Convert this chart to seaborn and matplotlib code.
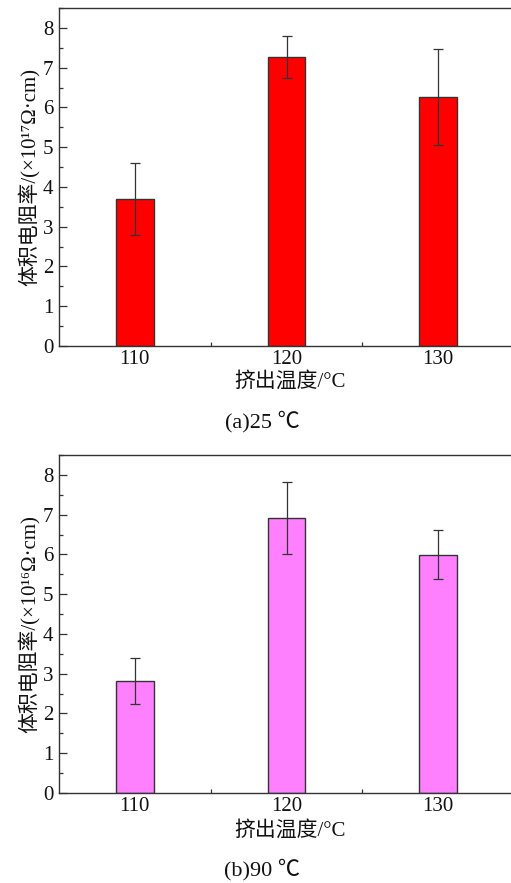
import matplotlib
matplotlib.use("Agg")
import matplotlib.pyplot as plt
import seaborn as sns
import pandas as pd
from matplotlib.ticker import MultipleLocator, FixedLocator

temps = ["110", "120", "130"]
vals_a = [3.70, 7.27, 6.26]
err_a = [0.90, 0.52, 1.21]
vals_b = [2.81, 6.92, 5.99]
err_b = [0.58, 0.90, 0.62]
ytick_vals = [0, 1, 2, 3, 4, 5, 6, 7, 8]

sns.set_theme(style="white")
plt.rcParams['font.family'] = ['Liberation Serif', 'Noto Sans CJK SC', 'DejaVu Sans']

fig = plt.figure(figsize=(5.11, 8.83), dpi=100)
W, H = 511, 883

def px_axes(left, top, right, bottom):
    return fig.add_axes([left / W, 1 - bottom / H, (right - left) / W, (bottom - top) / H])

panels = [
    (px_axes(59, 8, 514, 346), vals_a, err_a, "#FF0000", "体积电阻率/(×10¹⁷Ω·cm)", "(a)25 ℃", 422, 382),
    (px_axes(59, 455, 514, 793), vals_b, err_b, "#FF80FF", "体积电阻率/(×10¹⁶Ω·cm)", "(b)90 ℃", 870, 831),
]

for ax, vals, errs, color, ylabel, caption, cap_y, xl_y in panels:
    df = pd.DataFrame({"temp": temps, "val": vals})
    sns.barplot(data=df, x="temp", y="val", ax=ax, color=color, width=0.25,
                edgecolor="#333333", linewidth=1.0, saturation=1, errorbar=None)
    ax.errorbar(range(len(temps)), vals, yerr=errs, fmt="none", ecolor="#333333",
                elinewidth=0.9, capsize=3.5, capthick=0.9)
    ax.set_xlim(-0.5, 2.5)
    ax.set_ylim(0, 8.5)
    ax.set_yticks(ytick_vals)
    ax.yaxis.set_minor_locator(MultipleLocator(0.5))
    ax.xaxis.set_minor_locator(FixedLocator([0.5, 1.5]))
    ax.tick_params(axis="both", which="major", direction="in", length=6, width=0.9,
                   color="#333333", labelsize=15, labelcolor="#111111")
    ax.tick_params(axis="both", which="minor", direction="in", length=3, width=0.9,
                   color="#333333")
    ax.tick_params(axis="y", which="both", left=True, pad=4)
    ax.tick_params(axis="x", which="both", bottom=True, pad=3)
    for s in ["left", "top", "bottom"]:
        ax.spines[s].set_visible(True)
        ax.spines[s].set_color("#333333")
        ax.spines[s].set_linewidth(1.0)
    ax.spines["right"].set_visible(False)
    ax.set_xlabel("")
    ax.set_ylabel(ylabel, fontsize=15, color="#111111", labelpad=2)
    ax.set_facecolor("white")
    fig.text(290 / W, 1 - xl_y / H, "挤出温度/°C", ha="center", va="center",
             fontsize=15, color="#111111")
    fig.text(262 / W, 1 - cap_y / H, caption, ha="center", va="center",
             fontsize=16, color="#111111")

fig.savefig("out.png", dpi=100)
